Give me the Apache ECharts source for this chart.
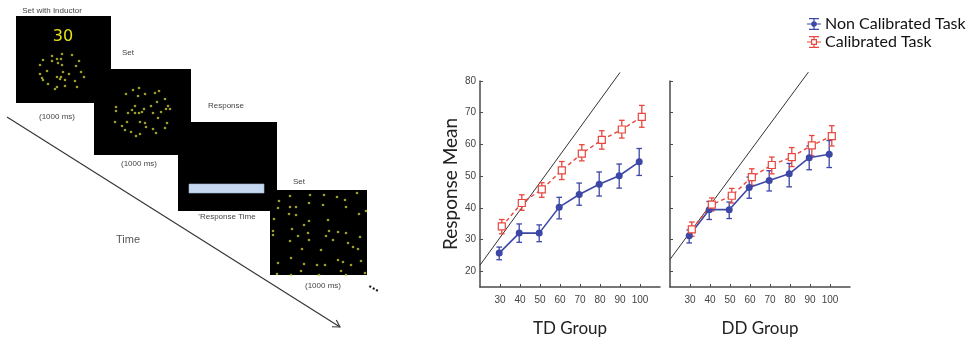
<!DOCTYPE html>
<html><head><meta charset="utf-8">
<script src="https://cdn.jsdelivr.net/npm/echarts@6/dist/echarts.min.js"></script>
<style>html,body{margin:0;padding:0;background:#fff}#c{width:968px;height:342px}</style>
</head><body><div id="c"></div>
<script>
// ---------- data ----------
const xTicks = [30, 40, 50, 60, 70, 80, 90, 100];
const yTicks = [20, 30, 40, 50, 60, 70, 80];
const setSizes = [30, 40, 50, 60, 70, 80, 90, 100];
// TD group
const tdNonCal     = [25.7, 32.0, 32.0, 40.2, 44.2, 47.4, 50.1, 54.5];
const tdNonCalLow  = [23.6, 29.1, 29.3, 36.5, 40.8, 43.7, 46.2, 50.2];
const tdNonCalHigh = [27.6, 34.9, 34.6, 43.3, 47.8, 51.3, 53.8, 58.7];
const tdCal        = [34.1, 41.5, 45.8, 51.8, 57.1, 61.4, 64.7, 68.7];
const tdCalLow     = [31.8, 39.2, 43.3, 48.9, 54.8, 58.5, 62.0, 65.4];
const tdCalHigh    = [36.3, 44.1, 47.9, 54.6, 59.9, 64.3, 67.6, 72.3];
// DD group
const ddNonCal     = [31.2, 39.4, 39.4, 46.4, 48.6, 50.7, 55.8, 56.9];
const ddNonCalLow  = [28.9, 36.3, 36.6, 43.0, 45.3, 46.6, 52.0, 52.7];
const ddNonCalHigh = [33.0, 42.0, 41.8, 49.7, 51.7, 54.0, 59.5, 61.2];
const ddCal        = [33.2, 41.0, 43.8, 49.7, 53.5, 56.0, 59.7, 62.6];
const ddCalLow     = [31.0, 39.0, 41.5, 47.1, 50.7, 53.0, 56.4, 59.5];
const ddCalHigh    = [35.5, 43.1, 46.1, 52.3, 56.0, 59.0, 62.8, 65.9];
// reference (diagonal) lines
const tdReference = [[20, 21.9], [90, 82.7]];
const ddReference = [[20, 23.7], [89.2, 82.8]];
// stimulus dots (box-local pixels)
const box1Dots = [[46,38],[36,40],[56,39],[27,44],[41,43],[45,43],[36,45],[63,45],[24,49],[42,47],[46,49],[60,50],[31,55],[47,56],[65,56],[24,58],[41,61],[45,61],[53,58],[68,61],[26,62],[44,63],[49,64],[59,65],[32,68],[49,70],[41,71],[39,73],[61,71],[27,64]];
const box2Dots = [[45,19],[39,21],[32,25],[51,25],[61,24],[65,22],[44,27],[71,30],[63,33],[22,38],[41,37],[57,37],[74,37],[22,42],[38,41],[50,40],[72,40],[76,40],[34,44],[41,44],[45,44],[48,43],[59,44],[67,43],[64,49],[21,53],[33,53],[46,53],[51,54],[73,54],[28,57],[52,58],[71,59],[31,61],[59,60],[37,63],[62,64],[46,65],[42,67]];
const box4Dots = [[20,6],[40,5],[54,5],[67,7],[75,10],[87,3],[9,11],[39,13],[53,15],[8,18],[20,17],[26,17],[76,17],[96,21],[19,24],[26,25],[89,24],[4,29],[39,31],[58,30],[34,35],[22,39],[59,41],[68,42],[76,43],[3,41],[3,45],[28,46],[38,43],[56,46],[90,47],[20,51],[39,50],[63,50],[78,53],[83,57],[88,59],[32,59],[51,60],[21,68],[8,73],[34,74],[68,70],[73,72],[91,71],[47,75],[55,75],[31,81],[71,81],[81,75],[7,84],[21,85],[49,85],[76,85],[95,83]];

// ---------- styles ----------
const BLUE = '#3c47a6', RED = '#e8463e', AXIS = '#4a4a4a', DOT = '#c8c636';
const blueOff = -0.4, redOff = 0.9;
const FONT = 'Lato';

function pts(xs, ys, off) { return xs.map((x, i) => [x + off, ys[i]]); }
function errSeries(name, xs, lo, hi, off, color, idx) {
  return {
    type: 'custom', name, xAxisIndex: idx, yAxisIndex: idx, z: 3, silent: true,
    data: xs.map((x, i) => [x + off, lo[i], hi[i]]),
    encode: { x: 0, y: [1, 2] },
    renderItem(params, api) {
      const x = api.value(0);
      const a = api.coord([x, api.value(1)]);
      const b = api.coord([x, api.value(2)]);
      const c = 2.8;
      const st = { stroke: color, lineWidth: 1.3 };
      return { type: 'group', children: [
        { type: 'line', shape: { x1: a[0], y1: a[1], x2: b[0], y2: b[1] }, style: st },
        { type: 'line', shape: { x1: a[0] - c, y1: a[1], x2: a[0] + c, y2: a[1] }, style: st },
        { type: 'line', shape: { x1: b[0] - c, y1: b[1], x2: b[0] + c, y2: b[1] }, style: st }
      ]};
    }
  };
}
function blueLine(ys, idx) {
  return { type: 'line', name: 'Non Calibrated Task', xAxisIndex: idx, yAxisIndex: idx, z: 4,
    data: pts(setSizes, ys, blueOff), symbol: 'circle', symbolSize: 7,
    lineStyle: { color: BLUE, width: 1.6 }, itemStyle: { color: BLUE } };
}
function redLine(ys, idx) {
  return { type: 'line', name: 'Calibrated Task', xAxisIndex: idx, yAxisIndex: idx, z: 4,
    data: pts(setSizes, ys, redOff), symbol: 'rect', symbolSize: 7,
    lineStyle: { color: RED, width: 1.4, type: [4, 3] },
    itemStyle: { color: '#fff', borderColor: RED, borderWidth: 1.2 } };
}
function refLine(d, idx) {
  return { type: 'line', xAxisIndex: idx, yAxisIndex: idx, data: d, symbol: 'none', clip: false, z: 2,
    lineStyle: { color: '#333', width: 1 }, silent: true };
}
function dotSeries(d, idx) {
  return { type: 'scatter', xAxisIndex: idx, yAxisIndex: idx, data: d, symbolSize: 2.6,
    itemStyle: { color: DOT }, silent: true, z: 5 };
}

const chartX = (name) => ({
  type: 'value', min: 20, max: 110,
  axisLine: { lineStyle: { color: AXIS, width: 1.5 } },
  axisTick: { inside: true, length: 3, customValues: xTicks, lineStyle: { color: AXIS } },
  axisLabel: { customValues: xTicks, margin: 8, fontSize: 10, color: '#444', fontFamily: 'Liberation Sans' },
  splitLine: { show: false },
  name, nameLocation: 'middle', nameGap: 33,
  nameTextStyle: { fontSize: 17, color: '#222', fontFamily: FONT }
});
const chartY = (labels, name) => ({
  type: 'value', min: 15, max: 80,
  axisLine: { show: true, lineStyle: { color: AXIS, width: 1.5 } },
  axisTick: { show: true, inside: true, length: 3, customValues: yTicks, lineStyle: { color: AXIS } },
  axisLabel: { show: labels, customValues: yTicks, margin: 4, fontSize: 10, color: '#444', fontFamily: 'Liberation Sans' },
  splitLine: { show: false },
  name, nameLocation: 'middle', nameGap: 20,
  nameTextStyle: { fontSize: 19, color: '#222', fontFamily: FONT }
});
const boxes = [
  { left: 16, top: 16, width: 95, height: 87 },
  { left: 94, top: 69, width: 97, height: 86 },
  { left: 178, top: 122, width: 99, height: 89 },
  { left: 270, top: 190, width: 97, height: 85 }
];
const hidX = (b) => ({ type: 'value', min: 0, max: b.width, show: false });
const hidY = (b) => ({ type: 'value', min: 0, max: b.height, inverse: true, show: false });

const grids = [
  { left: 480, top: 81, width: 180, height: 211 },
  { left: 670, top: 81, width: 180, height: 211 }
].concat(boxes.map(b => Object.assign({ show: true, backgroundColor: '#000', borderWidth: 0 }, b)));

const xAxes = [chartX('TD Group'), chartX('DD Group')].concat(boxes.map(hidX));
const yAxes = [chartY(true, 'Response Mean'), chartY(false, '')].concat(boxes.map(hidY));
xAxes.forEach((a, i) => a.gridIndex = i);
yAxes.forEach((a, i) => a.gridIndex = i);

const blueIcon = 'path://M2,1h10v1.2h-10z M0,6.4h14v1.2h-14z M2,11.8h10v1.2h-10z M6.4,1h1.2v12h-1.2z M7,4.2A2.8,2.8 0 1 1 6.99,4.2z';
const redIcon = 'path://M2,1h10v1.2h-10z M2,11.8h10v1.2h-10z M6.4,1h1.2v3h-1.2z M6.4,10h1.2v3h-1.2z M0,6.4h4v1.2h-4z M10,6.4h4v1.2h-4z M4,4h6v6h-6z M5.2,5.2v3.6h3.6v-3.6z';

const lbl = (text, x, y, size, fill) => ({
  type: 'text', x, y, z: 20,
  style: { text, fill: fill || '#444', font: (size || 8) + 'px "Liberation Sans"', align: 'center', verticalAlign: 'middle' }
});

const option = {
  animation: false,
  backgroundColor: '#fff',
  grid: grids,
  xAxis: xAxes,
  yAxis: yAxes,
  legend: {
    orient: 'vertical', left: 807, top: 16, padding: 0, itemGap: 2, itemWidth: 14, itemHeight: 14,
    selectedMode: false,
    textStyle: { fontSize: 16, color: '#111', fontFamily: FONT, lineHeight: 16, padding: [0, 0, 0, -1] },
    data: [
      { name: 'Non Calibrated Task', icon: blueIcon, itemStyle: { color: BLUE, borderWidth: 0 } },
      { name: 'Calibrated Task', icon: redIcon, itemStyle: { color: RED, borderWidth: 0 } }
    ]
  },
  series: [
    refLine(tdReference, 0), refLine(ddReference, 1),
    errSeries('td nc err', setSizes, tdNonCalLow, tdNonCalHigh, blueOff, BLUE, 0),
    errSeries('td c err', setSizes, tdCalLow, tdCalHigh, redOff, RED, 0),
    errSeries('dd nc err', setSizes, ddNonCalLow, ddNonCalHigh, blueOff, BLUE, 1),
    errSeries('dd c err', setSizes, ddCalLow, ddCalHigh, redOff, RED, 1),
    blueLine(tdNonCal, 0), redLine(tdCal, 0),
    blueLine(ddNonCal, 1), redLine(ddCal, 1),
    dotSeries(box1Dots, 2), dotSeries(box2Dots, 3), dotSeries(box4Dots, 5)
  ],
  graphic: [
    { type: 'rect', z: 20, shape: { x: 189, y: 184, width: 75, height: 9 }, style: { fill: '#c6d9f0', stroke: '#9fb6d6', lineWidth: 0.6 } },
    { type: 'text', z: 20, x: 63, y: 37, style: { text: '30', fill: '#e3e11d', font: '16px "DejaVu Sans"', align: 'center', verticalAlign: 'middle' } },
    lbl('Set with Inductor', 52, 11),
    lbl('(1000 ms)', 57, 117),
    lbl('Set', 128, 53),
    lbl('(1000 ms)', 139, 164),
    lbl('Response', 226, 106),
    lbl("'Response Time", 227, 217),
    lbl('Set', 299, 182),
    lbl('(1000 ms)', 323, 286),
    lbl('Time', 128, 240, 11, '#555'),
    { type: 'text', z: 20, x: 375, y: 286, rotation: -0.5, style: { text: '...', fill: '#111', font: 'bold 14px "Liberation Sans"', align: 'center', verticalAlign: 'middle' } },
    { type: 'line', z: 20, shape: { x1: 7, y1: 117, x2: 340, y2: 327 }, style: { stroke: '#333', lineWidth: 1.1 } },
    { type: 'polyline', z: 20, shape: { points: [[332, 326.7], [340, 327], [336.3, 319.9]] }, style: { stroke: '#333', lineWidth: 1.1, fill: null } }
  ]
};
const chart = echarts.init(document.getElementById('c'), null, { renderer: 'canvas' });
chart.setOption(option);
</script></body></html>
